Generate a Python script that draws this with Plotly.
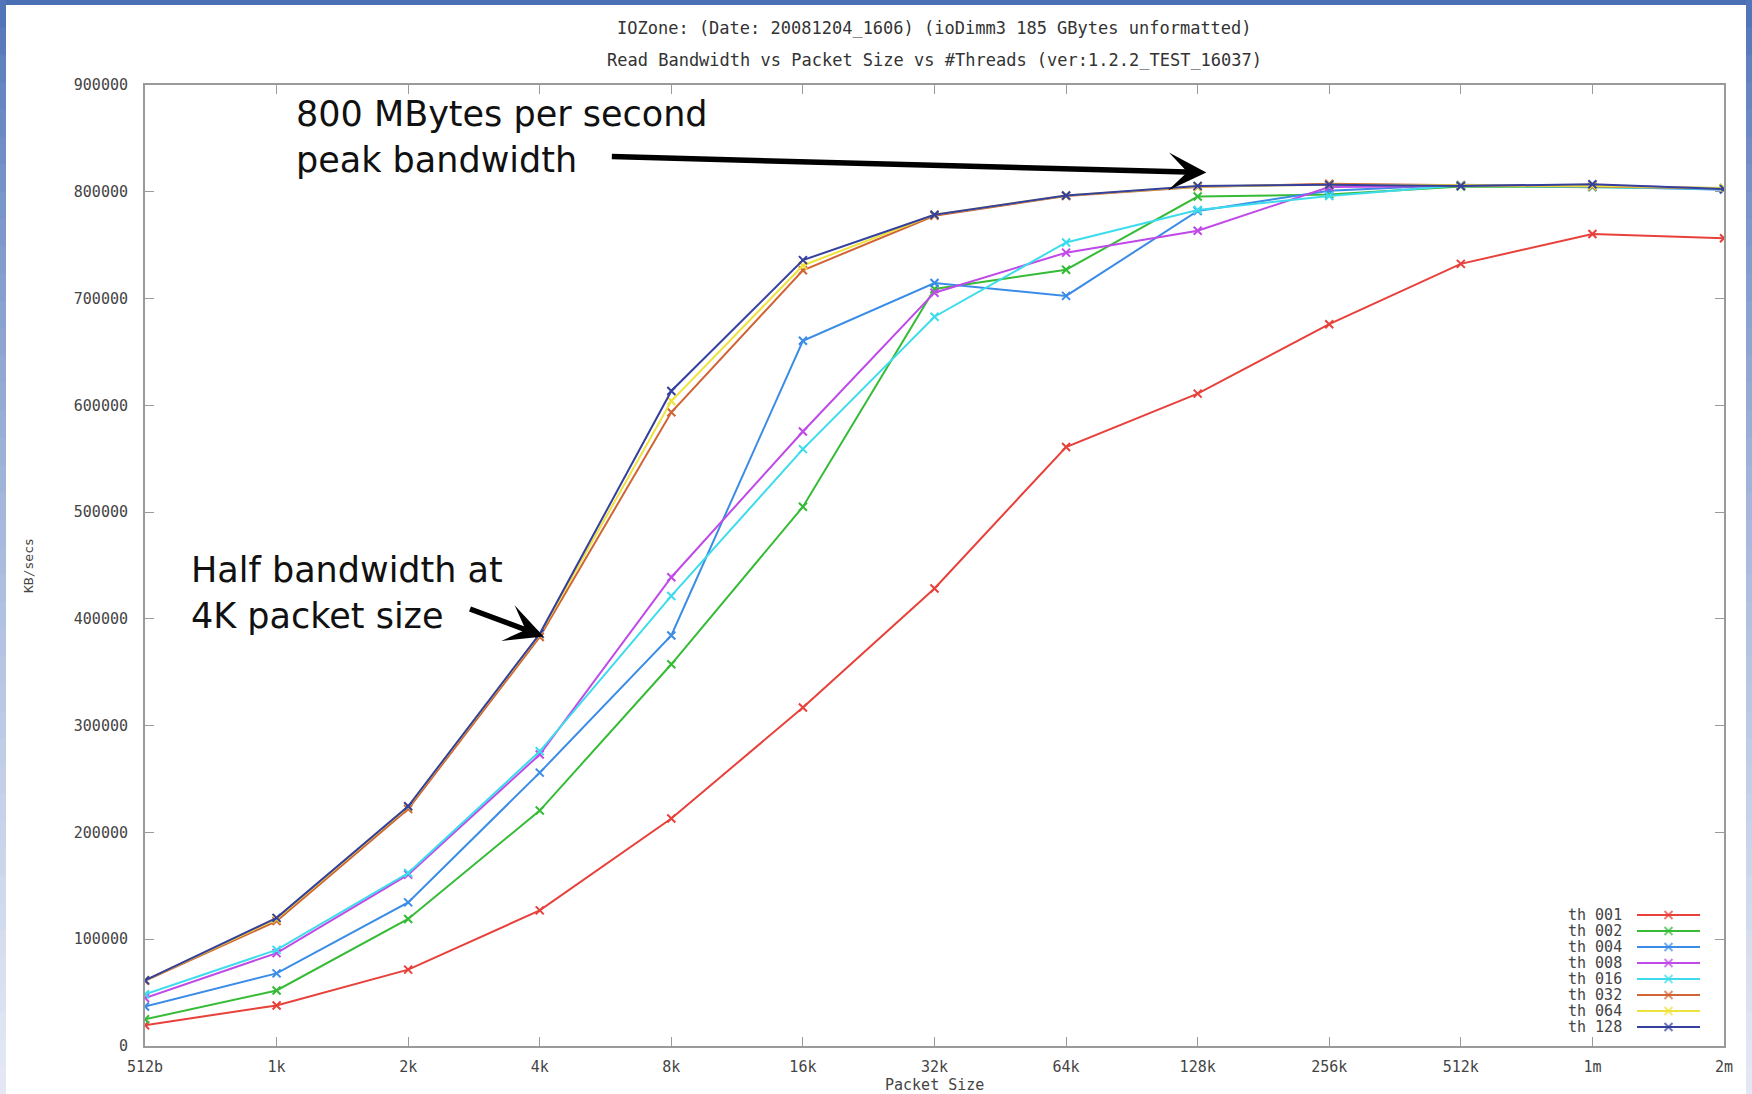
import numpy as np
import plotly.graph_objects as go

# Packet sizes (KB) and their axis labels
sizes_kb = [0.5, 1, 2, 4, 8, 16, 32, 64, 128, 256, 512, 1024, 2048]
size_labels = ["512b", "1k", "2k", "4k", "8k", "16k", "32k", "64k", "128k", "256k", "512k", "1m", "2m"]

# Read bandwidth (KB/sec) per thread count
th001 = [19500, 38000, 71500, 127000, 213000, 317000, 428500, 561000, 611000, 676000, 732500, 760500, 756500]
th002 = [25000, 52000, 119000, 220500, 357500, 505000, 709000, 727000, 795500, 797500, 805000, 804500, 803500]
th004 = [37000, 68000, 134500, 256000, 384500, 660500, 714500, 702500, 782000, 801000, 806500, 805000, 802000]
th008 = [45000, 87000, 160500, 273000, 439000, 575500, 705500, 743000, 763500, 804500, 805500, 806000, 803000]
th016 = [48500, 90000, 162000, 276000, 421500, 559000, 683000, 752500, 783000, 796000, 806000, 804500, 802500]
th032 = [61000, 117000, 222000, 383000, 593500, 726500, 777500, 796000, 804500, 807500, 806000, 805000, 803000]
th064 = [61500, 119000, 224000, 385500, 604000, 731000, 778500, 796500, 805000, 806500, 806000, 805500, 803500]
th128 = [61500, 120000, 224500, 386000, 613500, 736000, 778500, 796500, 805500, 806500, 805500, 807000, 802500]

series_names = ["th 001", "th 002", "th 004", "th 008", "th 016", "th 032", "th 064", "th 128"]
series_values = [th001, th002, th004, th008, th016, th032, th064, th128]
series_colors = ["#e8403a", "#36bb36", "#3a8ce6", "#c04ae8", "#3ddcec", "#d06434", "#eee23c", "#343f9e"]

y_ticks = list(range(0, 900001, 100000))

# Page geometry (pixels)
W, H = 1752, 1094
L, R, T, B = 145, 1724, 85, 1046


def px(x):
    return (x - L) / (R - L)


def py(y):
    return (B - y) / (B - T)


MONO = "DejaVu Sans Mono"
SANS = "DejaVu Sans"
LINE_W = 2.0

fig = go.Figure()

for name, vals, col in zip(series_names, series_values, series_colors):
    fig.add_trace(go.Scatter(
        x=sizes_kb, y=vals, name=name, mode="lines+markers",
        line=dict(color=col, width=LINE_W),
        marker=dict(symbol="x-thin", size=8, line=dict(color=col, width=2)),
        showlegend=False,
    ))

# gnuplot-style key: label on the left, line sample on the right
key_text_x, key_line_x0, key_line_x1 = 1624, 1637, 1700
key_y0, key_dy = 915, 16.0
annotations = []
for i, (name, col) in enumerate(zip(series_names, series_colors)):
    yy = py(key_y0 + i * key_dy)
    fig.add_trace(go.Scatter(
        x=[px(key_line_x0), px((key_line_x0 + key_line_x1) / 2), px(key_line_x1)],
        y=[yy, yy, yy], xaxis="x2", yaxis="y2", mode="lines+markers",
        line=dict(color=col, width=LINE_W),
        marker=dict(symbol="x-thin", size=[0, 8, 0], line=dict(color=col, width=2)),
        showlegend=False, hoverinfo="skip",
    ))
    annotations.append(dict(
        text=name, xref="paper", yref="paper", x=px(key_text_x), y=yy,
        xanchor="right", yanchor="middle", showarrow=False,
        font=dict(family=MONO, size=15, color="#444444"),
    ))

# Titles
annotations += [
    dict(text="IOZone: (Date: 20081204_1606) (ioDimm3 185 GBytes unformatted)",
         xref="paper", yref="paper", x=px(934), y=py(28), xanchor="center", yanchor="middle",
         showarrow=False, font=dict(family=MONO, size=17, color="#333333")),
    dict(text="Read Bandwidth vs Packet Size vs #Threads (ver:1.2.2_TEST_16037)",
         xref="paper", yref="paper", x=px(934), y=py(60), xanchor="center", yanchor="middle",
         showarrow=False, font=dict(family=MONO, size=17, color="#333333")),
    dict(text="KB/secs", xref="paper", yref="paper", x=px(28), y=py(565), textangle=-90,
         xanchor="center", yanchor="middle", showarrow=False,
         font=dict(family=MONO, size=13, color="#444444")),
    dict(text="Packet Size", xref="paper", yref="paper", x=px(934), y=py(1085),
         xanchor="center", yanchor="middle", showarrow=False,
         font=dict(family=MONO, size=15, color="#444444")),
]

# Callouts
annotations += [
    dict(text="800 MBytes per second<br>peak bandwidth", xref="paper", yref="paper",
         x=px(294), y=py(137), xanchor="left", yanchor="middle", align="left",
         showarrow=False, font=dict(family=SANS, size=35, color="#111111")),
    dict(text="", x=np.log10(134), y=818000, xref="x", yref="y",
         ax=-596, ay=-16, showarrow=True, arrowhead=3, arrowsize=1.15, arrowwidth=5.5,
         arrowcolor="#000000"),
    dict(text="Half bandwidth at<br>4K packet size", xref="paper", yref="paper",
         x=px(189), y=py(593), xanchor="left", yanchor="middle", align="left",
         showarrow=False, font=dict(family=SANS, size=35, color="#111111")),
    dict(text="", x=np.log10(4.08), y=383600, xref="x", yref="y",
         ax=-75, ay=-28, showarrow=True, arrowhead=3, arrowsize=1.15, arrowwidth=5.5,
         arrowcolor="#000000"),
]

# Blue slide frame around the page
shapes = []
shapes.append(dict(type="rect", xref="paper", yref="paper", x0=px(0), x1=px(W), y0=py(0), y1=py(5),
                   fillcolor="#4a6fb5", line=dict(width=0), layer="above"))


def blend(c0, c1, t):
    a = [int(c0[i:i + 2], 16) for i in (1, 3, 5)]
    b = [int(c1[i:i + 2], 16) for i in (1, 3, 5)]
    return "rgb({},{},{})".format(*[round(a[k] + (b[k] - a[k]) * t) for k in range(3)])


nseg = 40
for k in range(nseg):
    y0p = H * k / nseg
    y1p = H * (k + 1) / nseg + 1
    t = (k + 0.5) / nseg
    col = blend("#4a6fb5", "#e4e9f5", min(1.0, t ** 0.7))
    for x0p, x1p in ((0, 6), (1746, W)):
        shapes.append(dict(type="rect", xref="paper", yref="paper",
                           x0=px(x0p), x1=px(x1p), y0=py(y0p), y1=py(y1p),
                           fillcolor=col, line=dict(width=0), layer="above"))

axis_common = dict(
    showline=True, linecolor="#9a9a9a", linewidth=2, mirror="allticks",
    ticks="inside", ticklen=9, tickcolor="#9a9a9a", tickwidth=1.2,
    showgrid=False, zeroline=False,
    tickfont=dict(family=MONO, size=15, color="#444444"),
)

fig.update_layout(
    width=W, height=H,
    margin=dict(l=L, r=W - R, t=T, b=H - B),
    paper_bgcolor="white", plot_bgcolor="white",
    xaxis=dict(type="log", range=[np.log10(0.5), np.log10(2048)],
               tickvals=sizes_kb, ticktext=size_labels, ticklabelstandoff=6, **axis_common),
    yaxis=dict(range=[0, 900000], tickvals=y_ticks, tickformat="d", ticklabelstandoff=12,
               **axis_common),
    xaxis2=dict(overlaying="x", range=[0, 1], visible=False, fixedrange=True),
    yaxis2=dict(overlaying="y", range=[0, 1], visible=False, fixedrange=True),
    annotations=annotations,
    shapes=shapes,
    showlegend=False,
)

fig.write_html("out.html")
